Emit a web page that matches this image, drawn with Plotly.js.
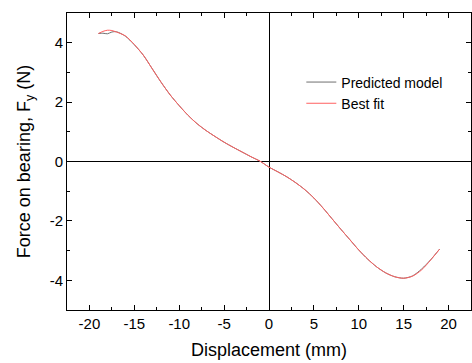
<!DOCTYPE html>
<html>
<head>
<meta charset="utf-8">
<script src="https://cdn.plot.ly/plotly-3.0.1.min.js"></script>
<style>html,body{margin:0;padding:0;background:#fff;}#chart{width:472px;height:363px;}</style>
</head>
<body>
<div id="chart"></div>
<script>
const displacement = [-19, -18.5, -18, -17.5, -17, -16, -15, -14, -13, -12, -11, -10, -9, -8, -7, -6, -5, -4, -3, -2, -1, 0, 1, 2, 3, 4, 5, 6, 7, 8, 9, 10, 11, 12, 13, 14, 15, 16, 17, 18, 19];
const predictedModel = [4.31, 4.32, 4.30, 4.36, 4.37, 4.22, 3.93, 3.58, 3.12, 2.66, 2.24, 1.88, 1.55, 1.27, 1.04, 0.84, 0.65, 0.48, 0.32, 0.16, 0.01, -0.19, -0.35, -0.52, -0.72, -0.95, -1.23, -1.56, -1.92, -2.28, -2.63, -2.98, -3.29, -3.55, -3.75, -3.88, -3.93, -3.85, -3.62, -3.31, -2.95];
const bestFit = [4.31, 4.38, 4.42, 4.41, 4.36, 4.23, 3.94, 3.58, 3.12, 2.66, 2.24, 1.88, 1.55, 1.27, 1.04, 0.84, 0.65, 0.48, 0.32, 0.16, 0.01, -0.19, -0.35, -0.52, -0.72, -0.95, -1.23, -1.56, -1.92, -2.28, -2.63, -2.98, -3.29, -3.55, -3.75, -3.88, -3.93, -3.86, -3.65, -3.32, -2.95];
const xTickVals = [-20, -15, -10, -5, 0, 5, 10, 15, 20];
const yTickVals = [-4, -2, 0, 2, 4];

const font = 'Arial, "Liberation Sans", sans-serif';
const traces = [
  {x: displacement, y: predictedModel, name: 'Predicted model', type: 'scatter', mode: 'lines',
   line: {color: '#707070', width: 1, shape: 'spline', smoothing: 0.8}},
  {x: displacement, y: bestFit, name: 'Best fit', type: 'scatter', mode: 'lines',
   line: {color: '#ff6060', width: 1, shape: 'spline', smoothing: 0.8}}
];
const axisCommon = {
  showgrid: false, showline: true, linecolor: '#000', linewidth: 1, mirror: 'ticks',
  ticks: 'inside', ticklen: 5, tickwidth: 1, tickcolor: '#000',
  zeroline: true, zerolinecolor: '#000', zerolinewidth: 1,
  tickfont: {family: font, size: 15, color: '#000'}
};
const layout = {
  width: 472, height: 363,
  margin: {l: 67, r: 1, t: 13, b: 53},
  paper_bgcolor: '#fff', plot_bgcolor: '#fff',
  showlegend: true,
  legend: {x: 0.58, y: 0.82, xanchor: 'left', yanchor: 'top', bgcolor: 'rgba(0,0,0,0)',
           font: {family: font, size: 14, color: '#000'}, tracegroupgap: 0},
  xaxis: Object.assign({}, axisCommon, {
    range: [-22.5, 22.5], tickvals: xTickVals, ticktext: xTickVals.map(String),
    minor: {dtick: 2.5, ticks: 'inside', ticklen: 3, tickcolor: '#000', showgrid: false},
    title: {text: 'Displacement (mm)', font: {family: font, size: 18, color: '#000'}, standoff: 12}
  }),
  yaxis: Object.assign({}, axisCommon, {
    range: [-5, 5], tickvals: yTickVals, ticktext: yTickVals.map(String),
    minor: {dtick: 1, ticks: 'inside', ticklen: 3, tickcolor: '#000', showgrid: false},
    title: {text: 'Force on bearing, F<sub>y</sub> (N)', font: {family: font, size: 18, color: '#000'}, standoff: 14}
  })
};
Plotly.newPlot('chart', traces, layout, {displayModeBar: false, staticPlot: true});
</script>
</body>
</html>
